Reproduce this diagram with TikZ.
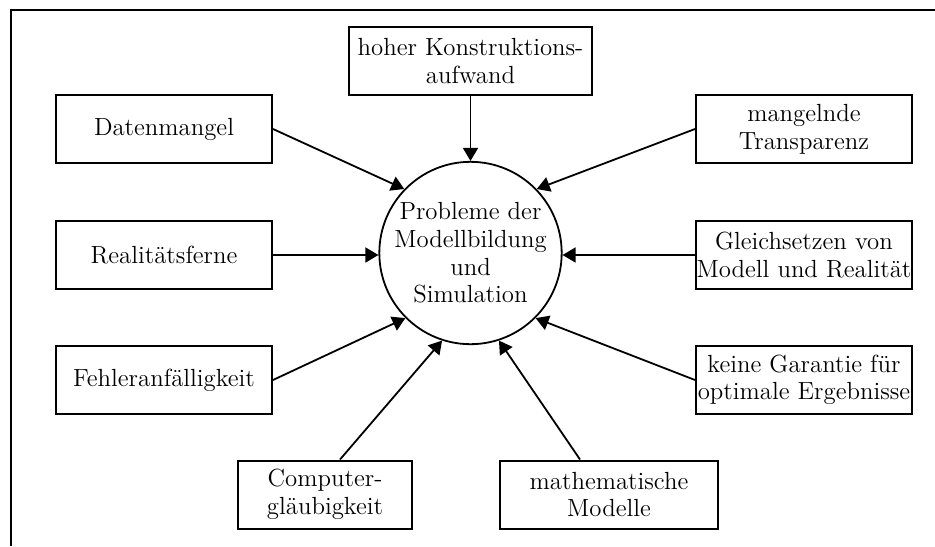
\documentclass[tikz,border=0pt]{standalone}
\usepackage{fontspec}
\usetikzlibrary{arrows.meta}
\begin{document}
\begin{tikzpicture}[x=0.5pt,y=-0.5pt,
  every node/.style={font=\fontsize{12.4}{13.8}\selectfont, align=center, inner sep=0pt},
  box/.style={draw, line width=1pt, minimum width=108pt, minimum height=34pt},
  hub/.style={draw, line width=0.9pt, circle, minimum size=91pt},
  link/.style={line width=0.9pt, -{Triangle[length=6.5pt,width=7.5pt]}},
  frame/.style={line width=1.1pt}]
\useasboundingbox (0,0) rectangle (935,546);
% open frame
\draw[frame] (935,10) -- (11,10) -- (11,546);
% centre
\node[hub] (c) at (470.5,253) {Probleme der\\Modellbildung\\und\\Simulation};
% causes
\node[box, minimum width=121.5pt] (kon) at (470.5,61) {hoher Konstruktions-\\aufwand};
\node[box] (dat) at (164,129) {Datenmangel};
\node[box] (rea) at (164,255) {Realitätsferne};
\node[box] (feh) at (164,380) {Fehleranfälligkeit};
\node[box] (tra) at (804,129) {mangelnde\\Transparenz};
\node[box] (gle) at (804,255) {Gleichsetzen von\\Modell und Realität};
\node[box] (gar) at (804,380) {keine Garantie für\\optimale Ergebnisse};
\node[box, minimum width=87pt] (com) at (325,494.5) {Computer-\\gläubigkeit};
\node[box, minimum width=109pt] (mat) at (609,494.5) {mathematische\\Modelle};
% arrows into the centre
\draw[link] (kon.south) -- (c.north);
\draw[link] (dat.east) -- (c.136);
\draw[link] (tra.west) -- (c.44);
\draw[link] (rea.east) -- (rea.east -| c.west);
\draw[link] (gle.west) -- (gle.west -| c.east);
\draw[link] (feh.east) -- (c.225);
\draw[link] (gar.west) -- (c.-45);
\draw[link] ([xshift=7.5pt]com.north) -- (c.252);
\draw[link] ([xshift=-14.5pt]mat.north) -- (c.288);
\end{tikzpicture}
\end{document}
